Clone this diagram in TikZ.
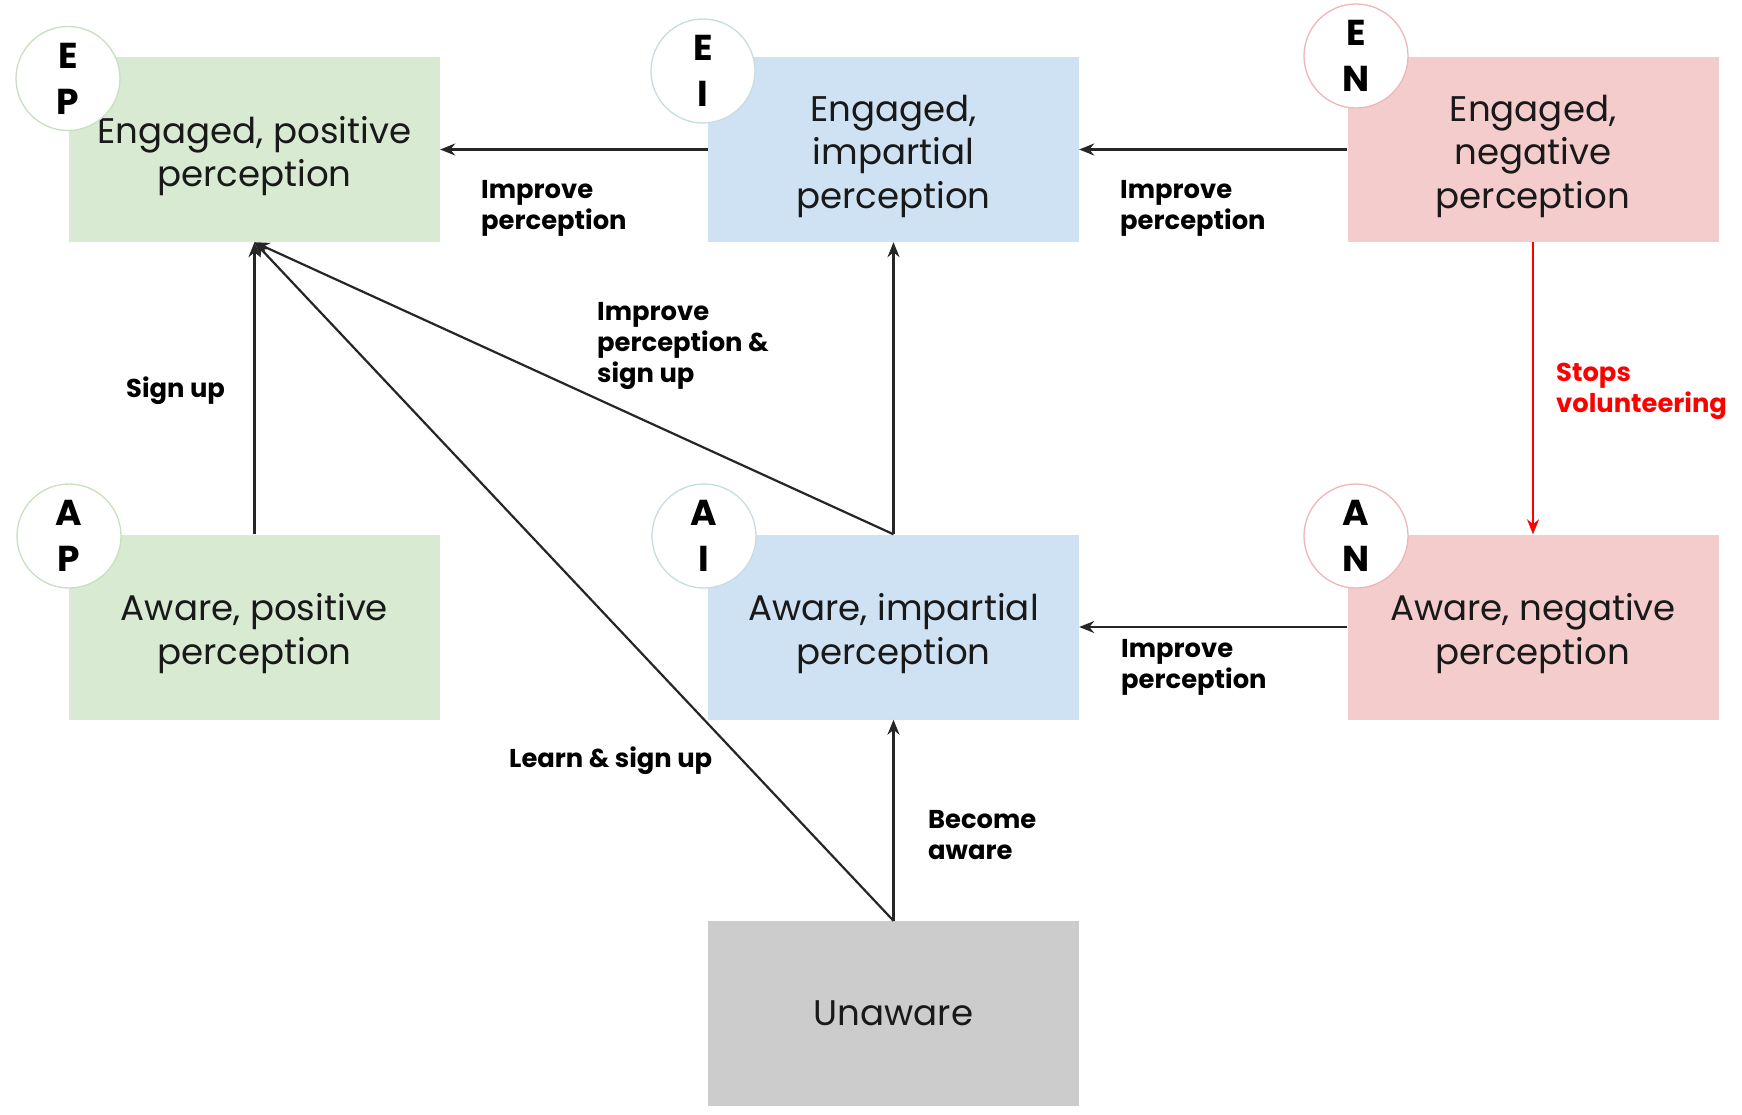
\documentclass[tikz,border=0pt]{standalone}
\usepackage{fontspec}
\newfontfamily\pop{Poppins}
\usetikzlibrary{arrows.meta}
\definecolor{gbox}{HTML}{D9EAD3}
\definecolor{bbox}{HTML}{CFE2F3}
\definecolor{pbox}{HTML}{F4CCCC}
\definecolor{ubox}{HTML}{CCCCCC}
\definecolor{gline}{HTML}{C9E0C0}
\definecolor{bline}{HTML}{C8DCE0}
\definecolor{pline}{HTML}{EDB8B8}
\definecolor{lred}{HTML}{FF0000}
\newcommand\tallstrut{\rule{0pt}{40pt}}
\tikzset{
  state/.style={draw=none, minimum width=371pt, minimum height=185pt, inner sep=0pt, align=center, font=\pop\fontsize{35.6}{43.5}\selectfont, text=black!90},
  badge/.style={circle, fill=white, draw=#1, line width=1.3pt, minimum size=104pt, inner sep=0pt, align=center, font=\pop\bfseries\fontsize{36}{46}\selectfont},
  lab/.style={anchor=base west, inner sep=0pt, align=left, font=\pop\bfseries\fontsize{25.8}{31}\selectfont},
  arr/.style={draw=black!85, line width=2.2pt, -{Stealth[length=15pt,width=12pt]}},
}
\begin{document}
\begin{tikzpicture}[x=1pt,y=-1pt]
\useasboundingbox[fill=white] (0,0) rectangle (1742,1115);
% boxes
\node[state, fill=gbox] (EP) at (254.5,149.5) {\tallstrut Engaged, positive\\perception};
\node[state, fill=bbox] (EI) at (893.5,149.5) {\tallstrut Engaged,\\impartial\\perception};
\node[state, fill=pbox] (EN) at (1533,149.5) {\tallstrut Engaged,\\negative\\perception};
\node[state, fill=gbox] (AP) at (254.5,627) {\tallstrut Aware, positive\\perception};
\node[state, fill=bbox] (AI) at (893.5,627) {\tallstrut Aware, impartial\\perception};
\node[state, fill=pbox] (AN) at (1533,627) {\tallstrut Aware, negative\\perception};
\node[state, fill=ubox] (UN) at (893.5,1013.5) {Unaware};
% badges
\node[badge=gline] (cEP) at (68,78.5) {E\\P};
\node[badge=bline] (cEI) at (703,71) {E\\I};
\node[badge=pline] (cEN) at (1356,56) {E\\N};
\node[badge=gline] (cAP) at (69,536) {A\\P};
\node[badge=bline] (cAI) at (704,536) {A\\I};
\node[badge=pline] (cAN) at (1356,536) {A\\N};
% connectors
\draw[arr] (EI.west) -- (EP.east);
\draw[arr] (EN.west) -- (EI.east);
\draw[arr, draw=lred, line width=1.8pt] (EN.south) -- (AN.north);
\draw[arr] (AN.west) -- (AI.east);
\draw[arr] (AP.north) -- (EP.south);
\draw[arr] (AI.north) -- (EI.south);
\draw[arr] (AI.north) -- (EP.south);
\draw[arr] (UN.north) -- (AI.south);
\draw[arr] (UN.north) -- (EP.south);
% labels (anchor = baseline of last line)
\node[lab] (l1) at (481,229.5) {Improve\\perception};
\node[lab] (l2) at (1120,229.5) {Improve\\perception};
\node[lab] (l3) at (597,382) {Improve\\perception \&\\sign up};
\node[lab] (l4) at (126,397) {Sign up};
\node[lab, text=lred] (l5) at (1556,412) {Stops\\volunteering};
\node[lab] (l6) at (1121,688.5) {Improve\\perception};
\node[lab] (l7) at (509,767) {Learn \& sign up};
\node[lab] (l8) at (928,859) {Become\\aware};
\end{tikzpicture}
\end{document}
